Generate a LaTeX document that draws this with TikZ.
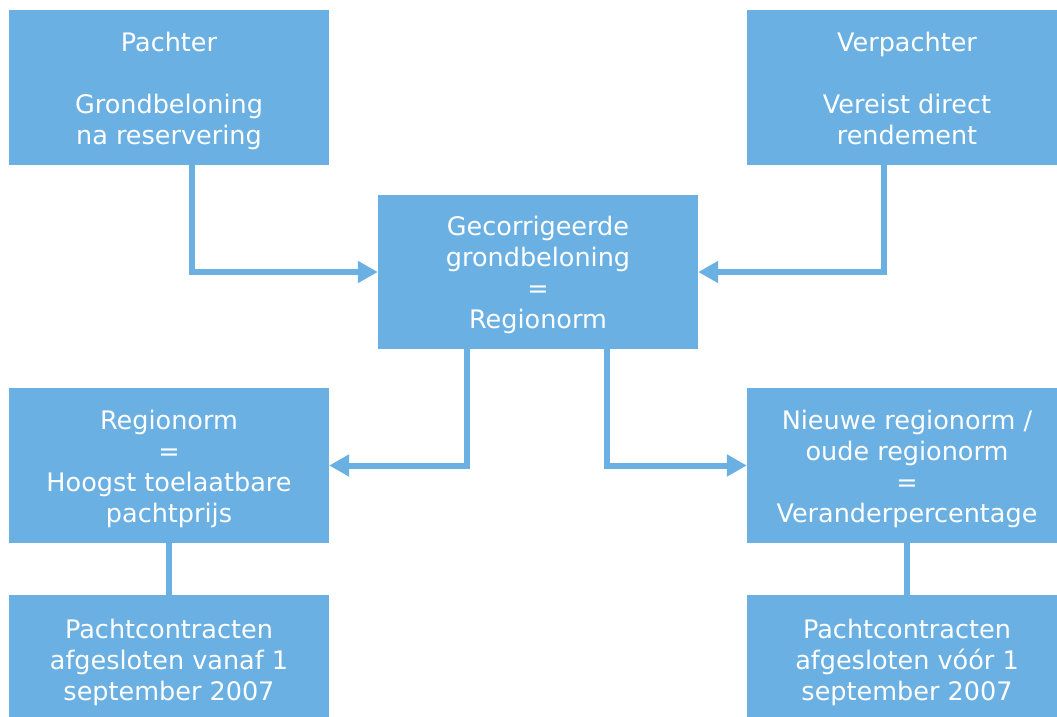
\documentclass[tikz,border=0pt]{standalone}
\usepackage{fontspec}
\setmainfont{DejaVu Sans}
\usetikzlibrary{arrows.meta}
\definecolor{boxblue}{HTML}{6AB0E3}
\newcommand{\tstr}{\rule{0pt}{29.7pt}}
\tikzset{
  box/.style={fill=boxblue, draw=none, text=white, align=center,
    minimum width=320pt, inner sep=0pt,
    font=\fontsize{25.5pt}{31pt}\selectfont},
  conn/.style={draw=boxblue, line width=6pt},
  arr/.style={conn, -{Triangle[length=20pt,width=21pt]}}
}
\begin{document}
\begin{tikzpicture}[x=1pt,y=-1pt]
\useasboundingbox (0,0) rectangle (1057,717);
\node[box, minimum height=155pt] (pachter) at (169,87.5) {\tstr Pachter\\[31pt]Grondbeloning\\na reservering\strut};
\node[box, minimum height=155pt] (verpachter) at (907,87.5) {\tstr Verpachter\\[31pt]Vereist direct\\rendement\strut};
\node[box, minimum height=154pt] (center) at (538,272) {\tstr Gecorrigeerde\\grondbeloning\\=\\Regionorm\strut};
\node[box, minimum height=155pt] (left) at (169,465.5) {\tstr Regionorm\\=\\Hoogst toelaatbare\\pachtprijs\strut};
\node[box, minimum height=155pt] (right) at (907,465.5) {\tstr Nieuwe regionorm /\\oude regionorm\\=\\Veranderpercentage\strut};
\node[box, minimum height=128pt] (bleft) at (169,659) {\tstr Pachtcontracten\\afgesloten vanaf 1\\september 2007\strut};
\node[box, minimum height=128pt] (bright) at (907,659) {\tstr Pachtcontracten\\afgesloten vóór 1\\september 2007\strut};
\coordinate (p1) at ([xshift=23pt]pachter.south);
\coordinate (v1) at ([xshift=-23pt]verpachter.south);
\coordinate (c1) at ([xshift=-71pt]center.south);
\coordinate (c2) at ([xshift=69pt]center.south);
\draw[arr] (p1) |- (center.west);
\draw[arr] (v1) |- (center.east);
\draw[arr] (c1) |- (left.east);
\draw[arr] (c2) |- (right.west);
\draw[conn] (left.south) -- (bleft.north);
\draw[conn] (right.south) -- (bright.north);
\end{tikzpicture}
\end{document}
